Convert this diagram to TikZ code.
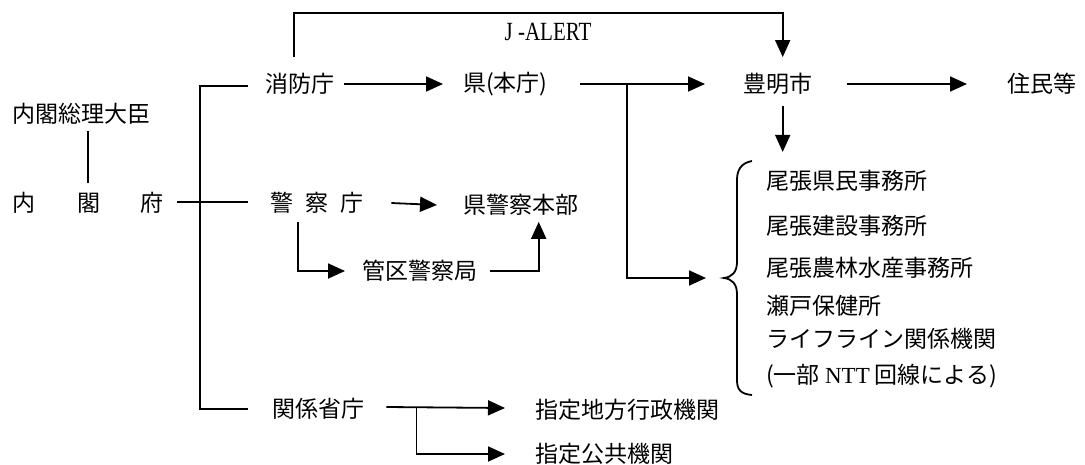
\documentclass[tikz,border=0pt]{standalone}
\usepackage{fontspec}
\setmainfont{Noto Sans CJK JP}
\newfontfamily\lat{Liberation Serif}
\usetikzlibrary{arrows.meta,calc}
\begin{document}
\begin{tikzpicture}[x=1pt,y=-1pt,
  lbl/.style={inner sep=0pt, anchor=west, font=\fontsize{23}{27}\selectfont},
  ln/.style={line width=1.8pt},
  arr/.style={ln, -{Triangle[length=17pt,width=15pt]}}]
\useasboundingbox[fill=white] (0,0) rectangle (1085,464);
% nodes
\node[lbl] (pm)   at (12,114) {内閣総理大臣};
\node[lbl] (cao)  at (12,203) {内\hspace{42pt}閣\hspace{40pt}府};
\node[lbl] (fdma) at (265,84) {消防庁};
\node[lbl] (npa)  at (270,203) {警\hspace{12pt}察\hspace{12pt}庁};
\node[lbl] (min)  at (272,409) {関係省庁};
\node[lbl] (pref) at (463,84) {県(本庁)};
\node[lbl] (ppol) at (463,205) {県警察本部};
\node[lbl] (rpb)  at (362,271) {管区警察局};
\node[lbl] (city) at (743,84) {豊明市};
\node[lbl] (res)  at (1007,84) {住民等};
\node[lbl] (lgov) at (535,410) {指定地方行政機関};
\node[lbl] (pub)  at (535,454) {指定公共機関};
\node[inner sep=0pt, font=\lat\fontsize{21}{24}\selectfont] (ja) at (548,32) {\scalebox{1}[1.25]{J -ALERT}};
\node[lbl] (i1) at (766,181) {尾張県民事務所};
\node[lbl] (i2) at (766,226) {尾張建設事務所};
\node[lbl] (i3) at (766,268) {尾張農林水産事務所};
\node[lbl] (i4) at (766,306) {瀬戸保健所};
\node[lbl] (i5) at (766,339) {ライフライン関係機関};
\node[lbl] (i6) at (766,376) {(一部 {\lat NTT} 回線による)};
% brace
\coordinate (btip) at (724,278);
\draw[ln] (752,161) .. controls (741,163) and (737,170) .. (737,180) -- (737,262)
  .. controls (737,272) and (732,277) .. (btip)
  .. controls (732,279) and (737,284) .. (737,294) -- (737,380)
  .. controls (737,390) and (741,394) .. (752,395);
% connectors
\draw[ln] ($(pm.south -| cao.north)+(0,6)$) -- ($(cao.north)+(0,-9)$);
\draw[ln] ($(fdma.west)+(-17,2)$) -| ($(min.west)+(-72,0)$) -- ($(min.west)+(-24,0)$);
\draw[ln] ($(cao.east)+(14,-1)$) -- ($(npa.west)+(-22,-1)$);
\draw[arr] ($(fdma.east)+(10,0)$) -- ($(pref.west)+(-20,0)$);
\draw[arr] ($(fdma.north)+(-6,-16)$) |- ($(city.north)+(5,-60)$) -- ($(city.north)+(5,-16)$);
\draw[arr] ($(npa.east)+(28,0)$) -- ($(ppol.west)+(-26,0)$);
\draw[arr] ($(npa.south west)+(28,8)$) |- ($(rpb.west)+(-17,0)$);
\draw[arr] ($(rpb.east)+(13,0)$) -| ($(ppol.south)+(18,6)$);
\draw[arr] ($(pref.east)+(32,0)$) -- ($(city.west)+(-38,0)$);
\draw[arr] ($(pref.east)+(79,0)$) |- ($(btip)+(-18,0)$);
\draw[arr] ($(city.east)+(35,0)$) -- ($(res.west)+(-40,0)$);
\draw[arr] ($(city.south)+(5,11)$) -- ($(city.south)+(5,57)$);
\draw[arr] ($(min.east)+(22,-2)$) -- ($(lgov.west)+(-30,-2)$);
\draw[arr] ($(min.east)+(52,-2)$) |- ($(pub.west)+(-30,0)$);
\end{tikzpicture}
\end{document}
